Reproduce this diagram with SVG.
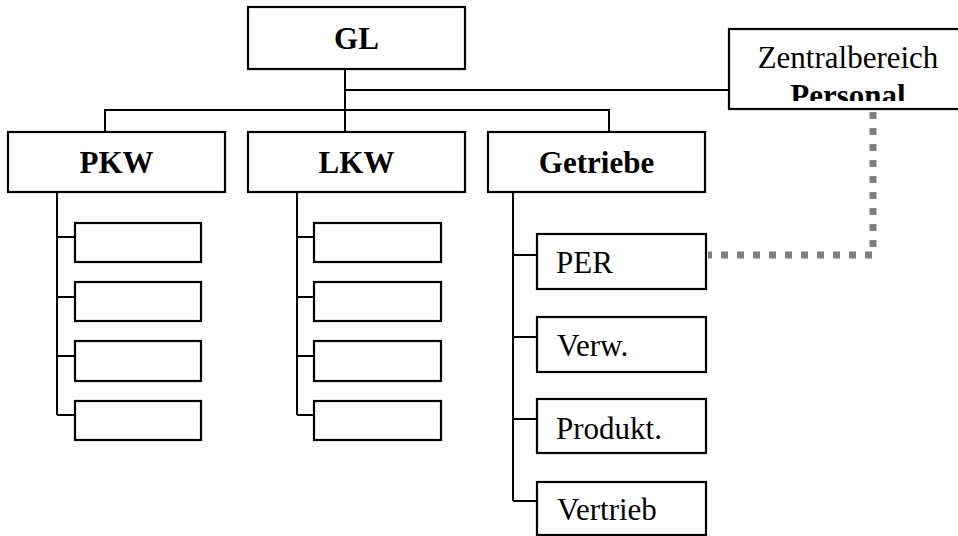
<svg xmlns="http://www.w3.org/2000/svg" width="958" height="536" viewBox="0 0 958 536">
  <defs>
    <style>
      .box { fill: #ffffff; stroke: #000000; stroke-width: 2.2; }
      .wire { fill: none; stroke: #000000; stroke-width: 2; }
      .dots { fill: none; stroke: #808080; stroke-width: 7; stroke-dasharray: 7 9; }
      .bold { font-family: "Liberation Serif", "Times New Roman", serif; font-size: 31px; font-weight: bold; fill: #000000; }
      .plain { font-family: "Liberation Serif", "Times New Roman", serif; font-size: 31px; fill: #000000; }
    </style>
    <clipPath id="zb-clip">
      <rect x="729" y="29" width="229" height="72"/>
    </clipPath>
  </defs>
  <rect width="958" height="536" fill="#ffffff"/>

  <!-- connectors -->
  <g id="connectors">
    <!-- top level -->
    <path class="wire" d="M345 69 V132"/>
    <path class="wire" d="M345 90 H729"/>
    <path class="wire" d="M105 132 V110 H609 V132"/>
    <!-- PKW branch -->
    <path class="wire" d="M57 192 V415"/>
    <path class="wire" d="M57 237 H75 M57 297 H75 M57 356 H75 M57 415 H75"/>
    <!-- LKW branch -->
    <path class="wire" d="M297 192 V415"/>
    <path class="wire" d="M297 237 H314 M297 297 H314 M297 356 H314 M297 415 H314"/>
    <!-- Getriebe branch -->
    <path class="wire" d="M513 192 V501"/>
    <path class="wire" d="M513 255 H537 M513 337 H537 M513 419 H537 M513 501 H537"/>
    <!-- staff link -->
    <path class="dots" d="M873 112 V255 H708"/>
  </g>

  <g id="gl">
    <rect class="box" x="248" y="7" width="217" height="62"/>
    <text class="bold" x="356.5" y="49" text-anchor="middle">GL</text>
  </g>

  <g id="zentralbereich">
    <rect class="box" x="729" y="29" width="240" height="80"/>
    <g clip-path="url(#zb-clip)">
      <text class="plain" x="848" y="68" text-anchor="middle">Zentralbereich</text>
      <text class="bold" x="848" y="106" text-anchor="middle">Personal</text>
    </g>
  </g>

  <g id="pkw">
    <rect class="box" x="8" y="132" width="217" height="60"/>
    <text class="bold" x="116.5" y="173" text-anchor="middle">PKW</text>
  </g>
  <g id="pkw-1"><rect class="box" x="75" y="223" width="126" height="39"/></g>
  <g id="pkw-2"><rect class="box" x="75" y="282" width="126" height="39"/></g>
  <g id="pkw-3"><rect class="box" x="75" y="341" width="126" height="40"/></g>
  <g id="pkw-4"><rect class="box" x="75" y="401" width="126" height="39"/></g>

  <g id="lkw">
    <rect class="box" x="248" y="132" width="217" height="60"/>
    <text class="bold" x="356.5" y="173" text-anchor="middle">LKW</text>
  </g>
  <g id="lkw-1"><rect class="box" x="314" y="223" width="127" height="39"/></g>
  <g id="lkw-2"><rect class="box" x="314" y="282" width="127" height="39"/></g>
  <g id="lkw-3"><rect class="box" x="314" y="341" width="127" height="40"/></g>
  <g id="lkw-4"><rect class="box" x="314" y="401" width="127" height="39"/></g>

  <g id="getriebe">
    <rect class="box" x="488" y="132" width="217" height="60"/>
    <text class="bold" x="596.5" y="173" text-anchor="middle">Getriebe</text>
  </g>
  <g id="per">
    <rect class="box" x="537" y="234" width="169" height="55"/>
    <text class="plain" x="556" y="273">PER</text>
  </g>
  <g id="verw">
    <rect class="box" x="537" y="317" width="169" height="55"/>
    <text class="plain" x="557" y="356">Verw.</text>
  </g>
  <g id="produkt">
    <rect class="box" x="537" y="399" width="169" height="54"/>
    <text class="plain" x="556" y="439">Produkt.</text>
  </g>
  <g id="vertrieb">
    <rect class="box" x="537" y="482" width="169" height="53"/>
    <text class="plain" x="557" y="520">Vertrieb</text>
  </g>
</svg>
